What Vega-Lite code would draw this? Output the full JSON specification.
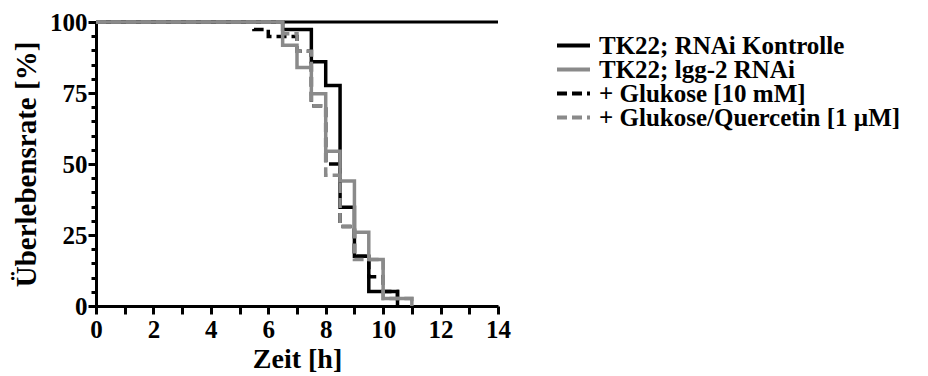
{
  "$schema": "https://vega.github.io/schema/vega-lite/v6.json",
  "width": 402,
  "height": 284,
  "autosize": {"type": "none"},
  "padding": {"left": 96, "top": 22, "right": 430, "bottom": 70},
  "config": {
    "view": {"stroke": null},
    "font": "Liberation Serif",
    "axis": {
      "grid": false,
      "domainColor": "black",
      "domainWidth": 3,
      "tickColor": "black",
      "tickWidth": 3,
      "labelFont": "Liberation Serif",
      "labelFontWeight": "bold",
      "labelFontSize": 25,
      "labelColor": "black",
      "titleFont": "Liberation Serif",
      "titleFontWeight": "bold",
      "titleFontSize": 28,
      "titleColor": "black"
    },
    "legend": {
      "labelFont": "Liberation Serif",
      "labelFontWeight": "bold",
      "labelFontSize": 25,
      "labelColor": "black"
    }
  },
  "datasets": {
    "surv": [
      {"s": "TK22; RNAi Kontrolle", "t": 0, "v": 100},
      {"s": "TK22; RNAi Kontrolle", "t": 6.5, "v": 97.4},
      {"s": "TK22; RNAi Kontrolle", "t": 7.5, "v": 86},
      {"s": "TK22; RNAi Kontrolle", "t": 8, "v": 77.6},
      {"s": "TK22; RNAi Kontrolle", "t": 8.5, "v": 34.8},
      {"s": "TK22; RNAi Kontrolle", "t": 9, "v": 17.5},
      {"s": "TK22; RNAi Kontrolle", "t": 9.5, "v": 5.1},
      {"s": "TK22; RNAi Kontrolle", "t": 10.5, "v": 0},
      {"s": "+ Glukose [10 mM]", "t": 0, "v": 100},
      {"s": "+ Glukose [10 mM]", "t": 5.5, "v": 97.4},
      {"s": "+ Glukose [10 mM]", "t": 6, "v": 94.9},
      {"s": "+ Glukose [10 mM]", "t": 7, "v": 89.7},
      {"s": "+ Glukose [10 mM]", "t": 7.5, "v": 70.5},
      {"s": "+ Glukose [10 mM]", "t": 8, "v": 50},
      {"s": "+ Glukose [10 mM]", "t": 8.5, "v": 28},
      {"s": "+ Glukose [10 mM]", "t": 9, "v": 17.5},
      {"s": "+ Glukose [10 mM]", "t": 9.5, "v": 10.3},
      {"s": "+ Glukose [10 mM]", "t": 10, "v": 5.1},
      {"s": "+ Glukose [10 mM]", "t": 10.5, "v": 0},
      {"s": "TK22; lgg-2 RNAi", "t": 0, "v": 100},
      {"s": "TK22; lgg-2 RNAi", "t": 6.5, "v": 91.8},
      {"s": "TK22; lgg-2 RNAi", "t": 7, "v": 84},
      {"s": "TK22; lgg-2 RNAi", "t": 7.5, "v": 74.7},
      {"s": "TK22; lgg-2 RNAi", "t": 8, "v": 54.5},
      {"s": "TK22; lgg-2 RNAi", "t": 8.5, "v": 44},
      {"s": "TK22; lgg-2 RNAi", "t": 9, "v": 26},
      {"s": "TK22; lgg-2 RNAi", "t": 9.5, "v": 16.4},
      {"s": "TK22; lgg-2 RNAi", "t": 10, "v": 2.6},
      {"s": "TK22; lgg-2 RNAi", "t": 11, "v": 0},
      {"s": "+ Glukose/Quercetin [1 µM]", "t": 0, "v": 100},
      {"s": "+ Glukose/Quercetin [1 µM]", "t": 6.5, "v": 95.9},
      {"s": "+ Glukose/Quercetin [1 µM]", "t": 7, "v": 89.7},
      {"s": "+ Glukose/Quercetin [1 µM]", "t": 7.5, "v": 70.5},
      {"s": "+ Glukose/Quercetin [1 µM]", "t": 8, "v": 46},
      {"s": "+ Glukose/Quercetin [1 µM]", "t": 8.5, "v": 28},
      {"s": "+ Glukose/Quercetin [1 µM]", "t": 9, "v": 16.4},
      {"s": "+ Glukose/Quercetin [1 µM]", "t": 10, "v": 2.6},
      {"s": "+ Glukose/Quercetin [1 µM]", "t": 11, "v": 0}
    ]
  },
  "layer": [
    {
      "data": {"values": [{"top": 100}]},
      "mark": {"type": "rule", "color": "black", "strokeWidth": 3},
      "encoding": {
        "y": {
          "field": "top", "type": "quantitative",
          "scale": {"domain": [0, 100], "nice": false},
          "axis": {
            "title": "Überlebensrate [%]",
            "values": [0,5,10,15,20,25,30,35,40,45,50,55,60,65,70,75,80,85,90,95,100],
            "labelExpr": "datum.value % 25 == 0 ? datum.label : ''",
            "tickSize": {"condition": {"test": "datum.value % 25 == 0", "value": 8}, "value": 5},
            "labelPadding": 1,
            "titlePadding": 8,
            "titleFontSize": 29,
            "labelFlush": false
          }
        }
      }
    },
    {
      "data": {"name": "surv"},
      "mark": {"type": "line", "interpolate": "step-after", "strokeWidth": 3.5, "strokeCap": "butt"},
      "encoding": {
        "x": {
          "field": "t", "type": "quantitative",
          "scale": {"domain": [0, 14], "nice": false},
          "axis": {
            "title": "Zeit [h]",
            "values": [0,1,2,3,4,5,6,7,8,9,10,11,12,13,14],
            "labelExpr": "datum.value % 2 == 0 ? datum.label : ''",
            "tickSize": 8,
            "labelPadding": 3,
            "titlePadding": 3,
            "labelFlush": false
          }
        },
        "y": {
          "field": "v", "type": "quantitative",
          "scale": {"domain": [0, 100], "nice": false},
          "axis": {
            "title": "Überlebensrate [%]",
            "values": [0,5,10,15,20,25,30,35,40,45,50,55,60,65,70,75,80,85,90,95,100],
            "labelExpr": "datum.value % 25 == 0 ? datum.label : ''",
            "tickSize": {"condition": {"test": "datum.value % 25 == 0", "value": 8}, "value": 5},
            "labelPadding": 1,
            "titlePadding": 8,
            "titleFontSize": 29,
            "labelFlush": false
          }
        },
        "color": {
          "field": "s", "type": "nominal",
          "scale": {
            "domain": ["TK22; RNAi Kontrolle", "TK22; lgg-2 RNAi", "+ Glukose [10 mM]", "+ Glukose/Quercetin [1 µM]"],
            "range": ["#000000", "#8a8a8a", "#000000", "#8a8a8a"]
          },
          "legend": {
            "title": null,
            "orient": "none",
            "legendX": 459,
            "legendY": 13,
            "symbolType": "stroke",
            "symbolSize": 1089,
            "symbolStrokeWidth": 4,
            "labelOffset": 7,
            "clipHeight": 21,
            "rowPadding": -3,
            "labelLimit": 400
          }
        },
        "strokeDash": {
          "field": "s", "type": "nominal",
          "scale": {
            "domain": ["TK22; RNAi Kontrolle", "TK22; lgg-2 RNAi", "+ Glukose [10 mM]", "+ Glukose/Quercetin [1 µM]"],
            "range": [[1, 0], [1, 0], [10, 5], [10, 5]]
          },
          "legend": {
            "title": null,
            "orient": "none",
            "legendX": 459,
            "legendY": 13,
            "symbolType": "stroke",
            "symbolSize": 1089,
            "symbolStrokeWidth": 4,
            "labelOffset": 7,
            "clipHeight": 21,
            "rowPadding": -3,
            "labelLimit": 400
          }
        }
      }
    }
  ]
}
